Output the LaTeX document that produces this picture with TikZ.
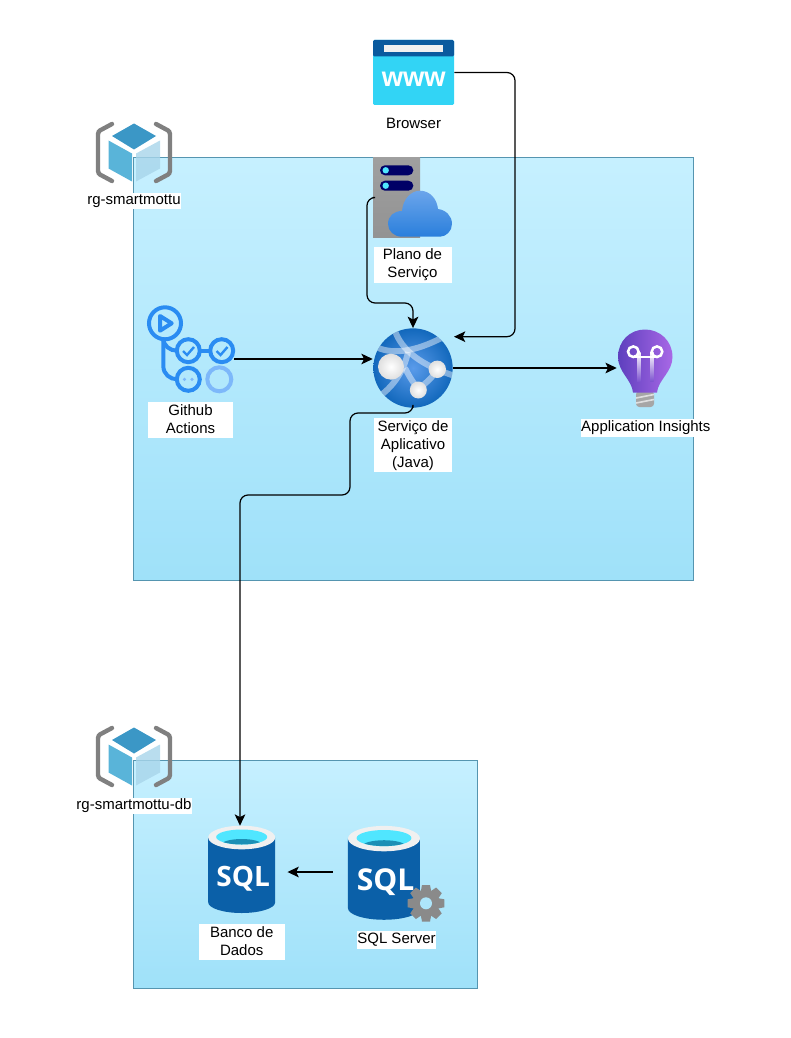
\documentclass[tikz,border=0pt]{standalone}
\usepackage{fontspec}
\setmainfont{Liberation Sans}
\newfontfamily\sqlfont{Open Sans}
\usetikzlibrary{positioning,arrows.meta}

\definecolor{boxtop}{HTML}{C6F0FF}
\definecolor{boxbot}{HTML}{9FE1F9}
\definecolor{boxline}{HTML}{5595B0}
\definecolor{wwwblue}{HTML}{32D4F5}
\definecolor{wwwdark}{HTML}{0A5A9E}
\definecolor{azdark}{HTML}{0B60A8}
\definecolor{azmid}{HTML}{1378C8}
\definecolor{gitblue}{HTML}{2A8CF2}
\definecolor{gitfade}{HTML}{7DB8FA}
\definecolor{cyanlight}{HTML}{50E6FF}
\definecolor{cyandark}{HTML}{1C8FB5}
\definecolor{gearc}{HTML}{8A8A8A}
\definecolor{cubetop}{HTML}{3B97C6}
\definecolor{cubeleft}{HTML}{59B4D9}
\definecolor{cuberight}{HTML}{A8D5EA}
\definecolor{bulbleft}{HTML}{5E3FBE}
\definecolor{bulbright}{HTML}{A868E6}
\definecolor{bulbmid}{HTML}{7F55D0}
\definecolor{cloudtop}{HTML}{6BA5EB}
\definecolor{cloudbot}{HTML}{2A7FDC}
\definecolor{appin}{HTML}{5A9BEA}
\definecolor{appout}{HTML}{1268BC}

\tikzset{
  pics/rgcube/.style={code={
    \draw[gray, line width=3.3pt, line cap=round, rounded corners=2pt]
      (-22,-28.5) -- (-36,-21) -- (-36,21) -- (-22,28.5);
    \draw[gray, line width=3.3pt, line cap=round, rounded corners=2pt]
      (22,-28.5) -- (36,-21) -- (36,21) -- (22,28.5);
    \fill[fill=cubetop] (0,-29) -- (-22,-16.5) -- (0,-3) -- (22,-16.5) -- cycle;
    \fill[fill=cubeleft] (-25.5,-12) -- (-2,1) -- (-2,29) -- (-25.5,16) -- cycle;
    \fill[fill=cuberight, fill opacity=.8] (2,1) -- (26,-12) -- (26,16) -- (2,29) -- cycle;
  }},
  pics/sqlcan/.style={code={
    \path[left color=azdark, middle color=azmid, right color=azdark]
      (-33.5,-32) -- (-33.5,32.8) arc[start angle=180, end angle=0, x radius=33.5, y radius=10.7]
      -- (33.5,-32) -- cycle;
    \fill[gray!12] (0,-32) ellipse[x radius=33.5, y radius=11.8];
    \fill[cyanlight] (0,-32.5) ellipse[x radius=25.5, y radius=7.5];
    \begin{scope}
      \clip (0,-32.5) ellipse[x radius=25.5, y radius=7.5];
      \fill[cyandark] (0,-25) ellipse[x radius=20, y radius=5.5];
    \end{scope}
    \node[transform shape, anchor=base, inner sep=0, text=white, font=\sqlfont\bfseries\fontsize{21}{21}\selectfont]
      at (1.5,16.5) {SQL};
  }},
  bulbstem/.style={top color=white, bottom color=bulbmid},
}

\begin{document}
\begin{tikzpicture}[
  x=.75pt, y=-.75pt,
  font=\fontsize{11.25}{13.5}\selectfont,
  rgbox/.style={draw=boxline, line width=.75pt, top color=boxtop, bottom color=boxbot},
  icon/.style 2 args={inner sep=0, minimum width=#1, minimum height=#2},
  lbl/.style 2 args={fill=white, align=center, inner sep=0, minimum width=#1, minimum height=#2},
  arr/.style={-{Stealth[length=8.5pt, width=8pt, inset=2pt]}, line width=.9pt, rounded corners=6pt}
]
\useasboundingbox (0,0) rectangle (791,1038);

% Grupos de recursos
\node[rgbox, minimum width=420pt, minimum height=316.5pt] (rgapp) at (413,369) {};
\node[rgbox, minimum width=258pt, minimum height=171pt] (rgdb) at (305,874) {};

\node[icon={56.25pt}{45pt}] (cubeapp) at (134,152.5) {};
\pic at (cubeapp.center) {rgcube};
\node[icon={56.25pt}{45pt}] (cubedb) at (134,756.5) {};
\pic at (cubedb.center) {rgcube};

% Browser
\node[icon={60.75pt}{48.75pt}] (browser) at (413.5,72.5) {};
\fill[wwwblue, rounded corners=1pt] (373,40) rectangle (454,105);
\fill[wwwdark, rounded corners=1pt] (373,40) rectangle (454,56.5);
\fill[gray!12] (384,45.3) rectangle (443,52);
\node[anchor=base, inner sep=0, text=white, font=\bfseries\fontsize{20.5}{20.5}\selectfont] (wwwtext) at (413.8,86.7) {www};

% Plano de servico
\node[icon={59.25pt}{59.25pt}] (plan) at (412.5,197.5) {};
\path[top color=gray!75, bottom color=gray!85] (373,158) rectangle (420,237);
\foreach \sy in {170.3,185.7} {
  \fill[blue!40!black, rounded corners=3.7pt] (380,\sy-5) rectangle (413.3,\sy+5);
  \fill[cyanlight] (385.7,\sy) circle[radius=3.2];
}
\path[top color=cloudtop, bottom color=cloudbot]
  (402,236.7) .. controls (394,236.7) and (388,231) .. (388,224)
  .. controls (388,216) and (394,211) .. (402,211)
  .. controls (403,199) and (411,190.7) .. (420,190.7)
  .. controls (430,190.7) and (437,199) .. (438,209)
  .. controls (446,210) and (452,216) .. (452,224)
  .. controls (452,231) and (446,236.7) .. (440,236.7) -- cycle;

% Github Actions
\node[icon={65.25pt}{65.25pt}] (github) at (190.5,348.5) {};
\begin{scope}[gitblue, line width=3pt]
  \draw (165,323.3) circle[radius=16];
  \draw[line join=round] (160,316) -- (171.7,323.3) -- (160,330.7) -- cycle;
  \draw (163.3,340) -- (163.3,366) .. controls (163.3,374) and (170,379.3) .. (177,379.3);
  \draw (163.3,338) .. controls (163.3,346) and (170,350.7) .. (177,350.7);
  \draw (188.3,350.7) circle[radius=11.5];
  \draw (221.7,350.7) circle[radius=11.5];
  \draw (199.8,350.7) -- (210.2,350.7);
  \draw (188.3,379.3) circle[radius=11.5];
  \draw[line width=1.8pt] (183,351) -- (187,355) -- (194,347);
  \draw[line width=1.8pt] (216.5,351) -- (220.5,355) -- (227.5,347);
\end{scope}
\draw[gitfade, line width=3pt] (219.3,379.3) circle[radius=12];
\draw[gitfade, line width=3pt] (206,379.3) -- (208,379.3);
\fill[gitfade] (184.5,379.3) circle[radius=1.8] (192,379.3) circle[radius=1.8];

% Servico de aplicativo
\node[circle, inner sep=0, minimum size=59.5pt, inner color=appin, outer color=appout] (app) at (413,368) {};
\begin{scope}
  \clip (app.center) circle[radius=39.7];
  \begin{scope}[white, opacity=.45, line width=4.5pt]
    \draw (395,331) .. controls (402,350) and (420,365) .. (455,376);
    \draw (376,347) .. controls (395,356) and (420,350) .. (447,335);
    \draw (377,398) .. controls (392,388) and (404,372) .. (408,352);
    \draw (405,368) .. controls (410,378) and (414,384) .. (421,392);
    \draw (438,369) .. controls (432,378) and (425,384) .. (417,390);
  \end{scope}
\end{scope}
\shade[inner color=white, outer color=gray!25] (391,366.7) circle[radius=13];
\shade[inner color=white, outer color=gray!25] (437.3,369.3) circle[radius=8.7];
\shade[inner color=white, outer color=gray!25] (418.3,390) circle[radius=8.5];

% Application Insights
\node[icon={42pt}{59.25pt}] (insights) at (645,368) {};
\fill[gray!70, rounded corners=2.5pt] (636,391) rectangle (654,407);
\draw[gray!25, line width=1.2pt] (636,398) -- (654,394.5) (636,403) -- (654,399.5);
\path[left color=bulbleft, right color=bulbright]
  (633,392.5) .. controls (632,380) and (618,372) .. (618,357)
  .. controls (618,341) and (630,329.5) .. (645,329.5)
  .. controls (660,329.5) and (672.5,341) .. (672.5,357)
  .. controls (672.5,372) and (658,380) .. (657,392.5) -- cycle;
\path[bulbstem] (637,352) rectangle (640.5,381);
\path[bulbstem] (650,352) rectangle (653.5,381);
\draw[white, line width=1.9pt] (633.3,351.7) circle[radius=5.3] (657,351.7) circle[radius=5.3];
\draw[white, line width=1.7pt] (633.3,357) -- (657,357);

% Bancos de dados
\node[icon={50.25pt}{65.25pt}] (db) at (241.7,869.5) {};
\pic at (db.center) {sqlcan};
\node[icon={72.75pt}{69pt}] (srv) at (396.5,872) {};
\pic[scale=1.075] at (384,873) {sqlcan};
\foreach \a in {0,45,...,315} {
  \fill[gearc, rotate around={\a:(426,903.3)}] (422,885) -- (430,885) -- (431.5,893) -- (420.5,893) -- cycle;
}
\fill[gearc] (426,903.3) circle[radius=13.5];
\fill[boxbot!85!white] (426,903.3) circle[radius=6];

% Textos
\node[lbl={69pt}{13.5pt}, below=6.75pt of browser] (browserlbl) {Browser};
\node[lbl={58.5pt}{27pt}, below=7.2pt of plan] (planlbl) {Plano de\\Serviço};
\node[lbl={63.75pt}{27pt}, below=6.75pt of github] (githublbl) {Github\\Actions};
\node[lbl={58.5pt}{40.5pt}, below=7.5pt of app] (applbl) {Serviço de\\Aplicativo\\(Java)};
\node[lbl={96.75pt}{13.5pt}, below=8pt of insights, xshift=.6pt] (insightslbl) {Application Insights};
\node[lbl={69pt}{12pt}, below=7.6pt of cubeapp] (rgapplbl) {rg-smartmottu};
\node[lbl={86.25pt}{12pt}, below=8.25pt of cubedb] (rgdblbl) {rg-smartmottu-db};
\node[lbl={64.5pt}{27pt}, below=7.5pt of db] (dblbl) {Banco de\\Dados};
\node[lbl={57.75pt}{13.5pt}, below=9pt of srv] (srvlbl) {SQL Server};

% Conexoes
\coordinate (browserbend) at (515,336.7);
\coordinate (appne) at (454,336.7);
\coordinate (planbend) at (367,303);
\coordinate (appw) at (372.7,359);
\coordinate (appbend) at (350,413);
\coordinate (dbbend) at (240,495);
\coordinate (dbn) at (240,825.7);

\draw[arr] (browser.east) -| (browserbend) -- (appne);
\draw[arr] (plan.west) -| (planbend) -| (app.north);
\draw[arr] (github.east |- appw) -- (appw);
\draw[arr] (app) -- (insights);
\draw[arr] (app.south) |- (appbend) |- (dbbend) -- (dbn);
\draw[arr, shorten <=11.25pt, shorten >=9pt] (srv.west) -- (srv.west -| db.east);

\end{tikzpicture}
\end{document}
